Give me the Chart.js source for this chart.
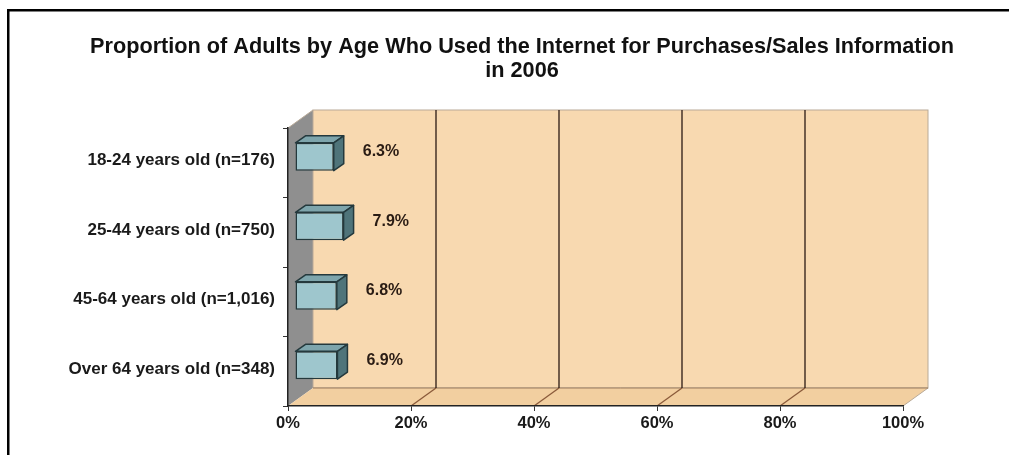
<!DOCTYPE html>
<html>
<head>
<meta charset="utf-8">
<script src="https://cdn.jsdelivr.net/npm/chart.js@4/dist/chart.umd.min.js"></script>
<style>
  html, body { margin: 0; padding: 0; background: #fff; }
  #wrap { width: 1009px; height: 455px; }
</style>
</head>
<body>
<div id="wrap"><canvas id="chart" width="1009" height="455"></canvas></div>
<script>
// Chart data
const categories = [
    '18-24 years old (n=176)',
    '25-44 years old (n=750)',
    '45-64 years old (n=1,016)',
    'Over 64 years old (n=348)'
];
const percentages = [6.3, 7.9, 6.8, 6.9];
const xTickValues = [0, 20, 40, 60, 80, 100];
const titleLines = ['Proportion of Adults by Age Who Used the Internet for Purchases/Sales Information', 'in 2006'];

const FONT = '"Liberation Sans", Arial, Helvetica, sans-serif';

// depth of the walls and of the bars (fake 3D)
const wallDepth = { x: 25, y: -18 };
const barShift = { x: 7, y: -6 };
const barDepth = { x: 10, y: -7 };

const threeD = {
    id: 'threeD',
    beforeDraw(chart) {
        const ctx = chart.ctx;
        const a = chart.chartArea;
        const xs = chart.scales.x;
        const dx = wallDepth.x, dy = wallDepth.y;

        ctx.save();
        // frame round the picture
        ctx.fillStyle = '#000';
        ctx.fillRect(7, 9, 1010, 2.5);
        ctx.fillRect(7, 9, 2.5, 460);

        // title (centred on the original frame, not the canvas)
        ctx.fillStyle = '#111';
        ctx.font = 'bold 21.7px ' + FONT;
        ctx.textAlign = 'center';
        ctx.textBaseline = 'middle';
        ctx.fillText(titleLines[0], 522, 47);
        ctx.fillText(titleLines[1], 522, 71);

        // left side wall
        ctx.fillStyle = '#8f8f8f';
        ctx.beginPath();
        ctx.moveTo(a.left, a.top);
        ctx.lineTo(a.left + dx, a.top + dy);
        ctx.lineTo(a.left + dx, a.bottom + dy);
        ctx.lineTo(a.left, a.bottom);
        ctx.closePath();
        ctx.fill();

        // back wall
        ctx.fillStyle = '#f8d9b0';
        ctx.fillRect(a.left + dx, a.top + dy, a.right - a.left, a.bottom - a.top);
        ctx.strokeStyle = '#b9aa98';
        ctx.lineWidth = 1;
        ctx.strokeRect(a.left + dx, a.top + dy, a.right - a.left, a.bottom - a.top);

        // floor
        ctx.fillStyle = '#f2cfa0';
        ctx.beginPath();
        ctx.moveTo(a.left, a.bottom);
        ctx.lineTo(a.right, a.bottom);
        ctx.lineTo(a.right + dx, a.bottom + dy);
        ctx.lineTo(a.left + dx, a.bottom + dy);
        ctx.closePath();
        ctx.fill();
        ctx.strokeStyle = '#b9aa98';
        ctx.beginPath();
        ctx.moveTo(a.right, a.bottom);
        ctx.lineTo(a.right + dx, a.bottom + dy);
        ctx.moveTo(a.left, a.top);
        ctx.lineTo(a.left + dx, a.top + dy);
        ctx.stroke();
        ctx.strokeStyle = '#9a7a5c';
        ctx.beginPath();
        ctx.moveTo(a.left + dx, a.bottom + dy);
        ctx.lineTo(a.right + dx, a.bottom + dy);
        ctx.stroke();

        // gridlines on floor and back wall
        ctx.lineWidth = 1.3;
        xTickValues.forEach(v => {
            if (v === 0 || v === 100) return;
            const x = xs.getPixelForValue(v);
            ctx.strokeStyle = '#8a5a3a';
            ctx.beginPath();
            ctx.moveTo(x, a.bottom);
            ctx.lineTo(x + dx, a.bottom + dy);
            ctx.stroke();
            ctx.strokeStyle = '#2a1a14';
            ctx.beginPath();
            ctx.moveTo(x + dx, a.bottom + dy);
            ctx.lineTo(x + dx, a.top + dy);
            ctx.stroke();
        });
        ctx.restore();
    },
    beforeDatasetsDraw(chart) {
        chart.ctx.save();
        chart.ctx.translate(barShift.x, barShift.y);
    },
    afterDatasetsDraw(chart) {
        const ctx = chart.ctx;
        const meta = chart.getDatasetMeta(0);
        meta.data.forEach(bar => {
            const p = bar.getProps(['x', 'y', 'base', 'height'], true);
            const top = p.y - p.height / 2;
            const bottom = p.y + p.height / 2;
            ctx.lineWidth = 1.5;
            ctx.strokeStyle = '#24393d';
            ctx.lineJoin = 'round';
            // top face
            ctx.fillStyle = '#7ea5ac';
            ctx.beginPath();
            ctx.moveTo(p.base, top);
            ctx.lineTo(p.x, top);
            ctx.lineTo(p.x + barDepth.x, top + barDepth.y);
            ctx.lineTo(p.base + barDepth.x, top + barDepth.y);
            ctx.closePath();
            ctx.fill();
            ctx.stroke();
            // right face
            ctx.fillStyle = '#4f747a';
            ctx.beginPath();
            ctx.moveTo(p.x, top);
            ctx.lineTo(p.x + barDepth.x, top + barDepth.y);
            ctx.lineTo(p.x + barDepth.x, bottom + barDepth.y);
            ctx.lineTo(p.x, bottom);
            ctx.closePath();
            ctx.fill();
            ctx.stroke();
        });
        ctx.restore();

        // value labels
        ctx.save();
        ctx.font = 'bold 16px ' + FONT;
        ctx.fillStyle = '#2a1c14';
        ctx.textBaseline = 'middle';
        ctx.textAlign = 'left';
        meta.data.forEach((bar, i) => {
            const p = bar.getProps(['x', 'y'], true);
            ctx.fillText(percentages[i].toFixed(1) + '%', p.x + 36, p.y - 11);
        });
        ctx.restore();
    }
};

new Chart(document.getElementById('chart'), {
    type: 'bar',
    data: {
        labels: categories,
        datasets: [{
            data: percentages,
            backgroundColor: '#9ec6cd',
            borderColor: '#24393d',
            borderWidth: 1.5,
            borderSkipped: false,
            categoryPercentage: 1,
            barPercentage: 0.4
        }]
    },
    options: {
        indexAxis: 'y',
        responsive: false,
        animation: false,
        devicePixelRatio: 1,
        layout: {
            padding: { left: 10, right: 106, top: 128, bottom: 19 }
        },
        plugins: {
            legend: { display: false },
            tooltip: { enabled: false },
            title: { display: false }
        },
        scales: {
            x: {
                min: 0,
                max: 100,
                afterBuildTicks: scale => {
                    scale.ticks = xTickValues.map(v => ({ value: v }));
                },
                ticks: {
                    callback: v => v + '%',
                    color: '#1a1a1a',
                    font: { family: FONT, size: 16.5, weight: 'bold' },
                    padding: 3,
                    maxRotation: 0
                },
                grid: { display: true, drawOnChartArea: false, drawTicks: true, tickLength: 5, color: '#333' },
                border: { display: true, color: '#222', width: 1.5 },
                afterFit: scale => { scale.height = 30; }
            },
            y: {
                ticks: {
                    color: '#1a1a1a',
                    font: { family: FONT, size: 17, weight: 'bold' },
                    padding: 8,
                    labelOffset: -2
                },
                grid: { display: true, drawOnChartArea: false, drawTicks: true, tickLength: 5, offset: true, color: '#333' },
                border: { display: true, color: '#222', width: 1.5 },
                afterFit: scale => { scale.width = 278; }
            }
        }
    },
    plugins: [threeD]
});
</script>
</body>
</html>
